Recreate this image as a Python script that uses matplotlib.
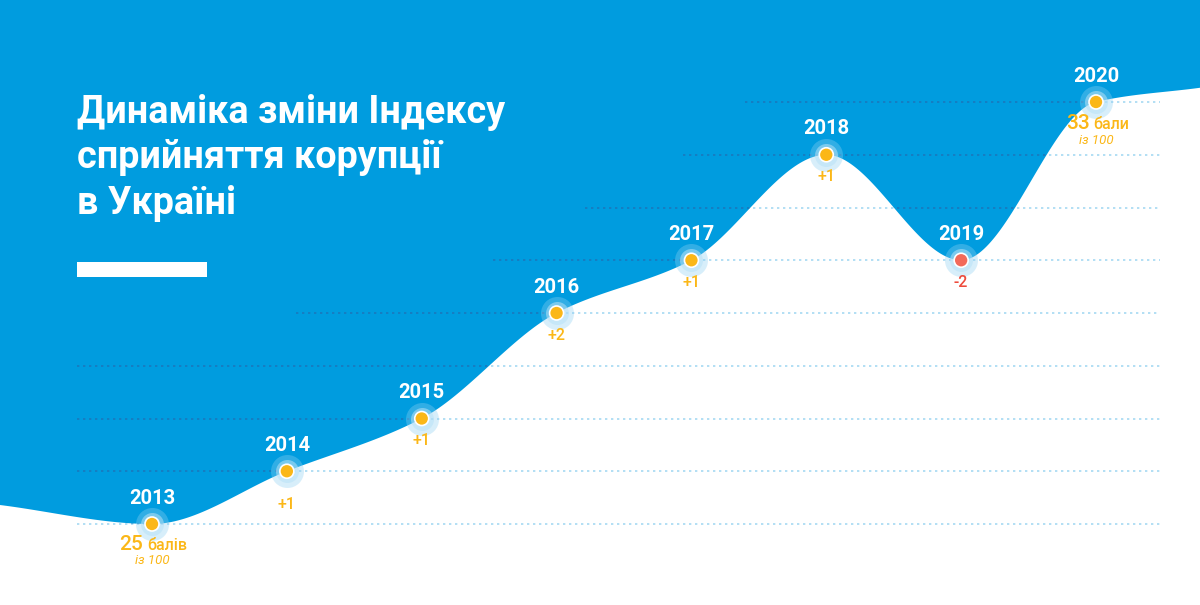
import numpy as np
import matplotlib
matplotlib.use("Agg")
import matplotlib.pyplot as plt
from matplotlib.patches import Polygon, Rectangle

plt.rcParams['font.family'] = ['Roboto', 'DejaVu Sans']

# ---- data ----
years = [2013, 2014, 2015, 2016, 2017, 2018, 2019, 2020]
scores = [25, 26, 27, 29, 30, 32, 30, 33]
changes = ['', '+1', '+1', '+2', '+1', '+1', '-2', '']
title_lines = ["Динаміка зміни Індексу", "сприйняття корупції", "в Україні"]
first_label = ("25", "балів", "із 100")
last_label = ("33", "бали", "із 100")
levels = [25, 26, 27, 28, 29, 30, 31, 32, 33]

# ---- style ----
W, H = 1200, 605
BLUE = '#009cdf'
DARK_DOT = '#1a78bd'
LIGHT_DOT = '#a6d9f2'
YELLOW = '#fbb717'
RED = '#f26a5a'
RED_TXT = '#ee4b3c'

# pixel mapping (layout)
x0_px, dx_px = 152, 134.86
y0_px, dy_px = 524, 52.75
xlim = (years[0] - x0_px / dx_px, years[0] + (W - x0_px) / dx_px)
ylim = (scores[0] - (H - y0_px) / dy_px, scores[0] + y0_px / dy_px)

def px2x(px):
    return years[0] + (px - x0_px) / dx_px

# where each guide line starts (pixels)
guide_start_px = {25: 77, 26: 77, 27: 77, 28: 77, 29: 296, 30: 493, 31: 585, 32: 683, 33: 745}
guide_end_px = 1160

fig = plt.figure(figsize=(W / 100, H / 100), dpi=100)
ax = fig.add_axes([0, 0, 1, 1])
ax.set_xlim(*xlim)
ax.set_ylim(*ylim)
ax.axis('off')
fig.patch.set_facecolor('white')

# ---- boundary curve: monotone cubic (PCHIP) through the points ----
kx = np.array([xlim[0]] + years + [xlim[1]], dtype=float)
ky = np.array([25.36] + scores + [33.27], dtype=float)

def pchip_slopes(x, y):
    h = np.diff(x)
    d = np.diff(y) / h
    m = np.zeros_like(y)
    for k in range(1, len(x) - 1):
        if d[k - 1] * d[k] <= 0:
            m[k] = 0.0
        else:
            w1 = 2 * h[k] + h[k - 1]
            w2 = h[k] + 2 * h[k - 1]
            m[k] = (w1 + w2) / (w1 / d[k - 1] + w2 / d[k])
    m[0] = d[0]
    m[-1] = d[-1]
    return m

m = pchip_slopes(kx, ky)
cx, cy = [], []
for k in range(len(kx) - 1):
    h = kx[k + 1] - kx[k]
    t = np.linspace(0, 1, 80, endpoint=False)
    h00 = 2 * t**3 - 3 * t**2 + 1
    h10 = t**3 - 2 * t**2 + t
    h01 = -2 * t**3 + 3 * t**2
    h11 = t**3 - t**2
    cx.append(kx[k] + t * h)
    cy.append(h00 * ky[k] + h10 * h * m[k] + h01 * ky[k + 1] + h11 * h * m[k + 1])
cx.append([kx[-1]])
cy.append([ky[-1]])
cx = np.concatenate(cx)
cy = np.concatenate(cy)

# light guides (seen on white)
for lv in levels:
    ax.hlines(lv, px2x(guide_start_px[lv]), px2x(guide_end_px), colors=LIGHT_DOT,
              linewidth=1.2, linestyles=(0, (1.4, 2.2)), zorder=1)

# blue region above curve
verts = np.column_stack([np.r_[cx, xlim[1], xlim[0]], np.r_[cy, ylim[1] + 1, ylim[1] + 1]])
blue = Polygon(verts, closed=True, facecolor=BLUE, edgecolor='none', zorder=2)
ax.add_patch(blue)

# dark guides (seen on blue)
for lv in levels:
    ln = ax.hlines(lv, px2x(guide_start_px[lv]), px2x(guide_end_px), colors=DARK_DOT,
                   linewidth=1.2, linestyles=(0, (1.4, 2.2)), zorder=3)
    ln.set_clip_path(blue)

# title and bar
for i, line in enumerate(title_lines):
    fig.text(77 / W, 1 - (123 + 45.5 * i) / H, line, color='white', fontsize=27.2,
             fontweight='bold', va='baseline', ha='left')
ax.add_patch(Rectangle((px2x(77), scores[0] + (y0_px - 277) / dy_px), 130 / dx_px, 15 / dy_px,
                       facecolor='white', edgecolor='none', zorder=4))

# points with halos
pt = 0.72  # points per pixel
colors = [RED if (c.startswith('-')) else YELLOW for c in changes]
ax.scatter(years, scores, s=(33 * pt) ** 2, color='#8fd0f2', alpha=0.35, linewidths=0, zorder=5)
ax.scatter(years, scores, s=(23 * pt) ** 2, color='#b8e2f7', alpha=0.55, linewidths=0, zorder=6)
ax.scatter(years, scores, s=(14 * pt) ** 2, color=colors, edgecolors='white',
           linewidths=1.2, zorder=7)

# year labels
for yr, sc in zip(years, scores):
    ax.annotate(str(yr), (yr, sc), xytext=(0, 26 * pt), textcoords='offset points',
                ha='center', va='center', color='white', fontsize=14.5, fontweight='bold', zorder=8)

# change labels
for i, (yr, sc, ch) in enumerate(zip(years, scores, changes)):
    if not ch:
        continue
    off = 33 if i == 1 else 22
    col = RED_TXT if ch.startswith('-') else YELLOW
    ax.annotate(ch, (yr, sc), xytext=(0, -off * pt), textcoords='offset points',
                ha='center', va='center', color=col, fontsize=11.5, fontweight='medium', zorder=8)

# first / last labels
def score_label(yr, sc, lab, num_right, word_left, base_off, sub_off):
    num, word, sub = lab
    ax.annotate(num, (yr, sc), xytext=(num_right * pt, -base_off * pt), textcoords='offset points',
                ha='right', va='baseline', color=YELLOW, fontsize=15, fontweight='medium', zorder=8)
    ax.annotate(word, (yr, sc), xytext=(word_left * pt, -base_off * pt), textcoords='offset points',
                ha='left', va='baseline', color=YELLOW, fontsize=11.5, fontweight='medium', zorder=8)
    ax.annotate(sub, (yr, sc), xytext=(0, -sub_off * pt), textcoords='offset points',
                ha='center', va='center', color=YELLOW, fontsize=9.5, fontstyle='italic', zorder=8)

score_label(years[0], scores[0], first_label, -9, -5, 26, 36)
score_label(years[-1], scores[-1], last_label, -6, -3, 27, 38)

fig.savefig('out.png', dpi=100, facecolor='white')
